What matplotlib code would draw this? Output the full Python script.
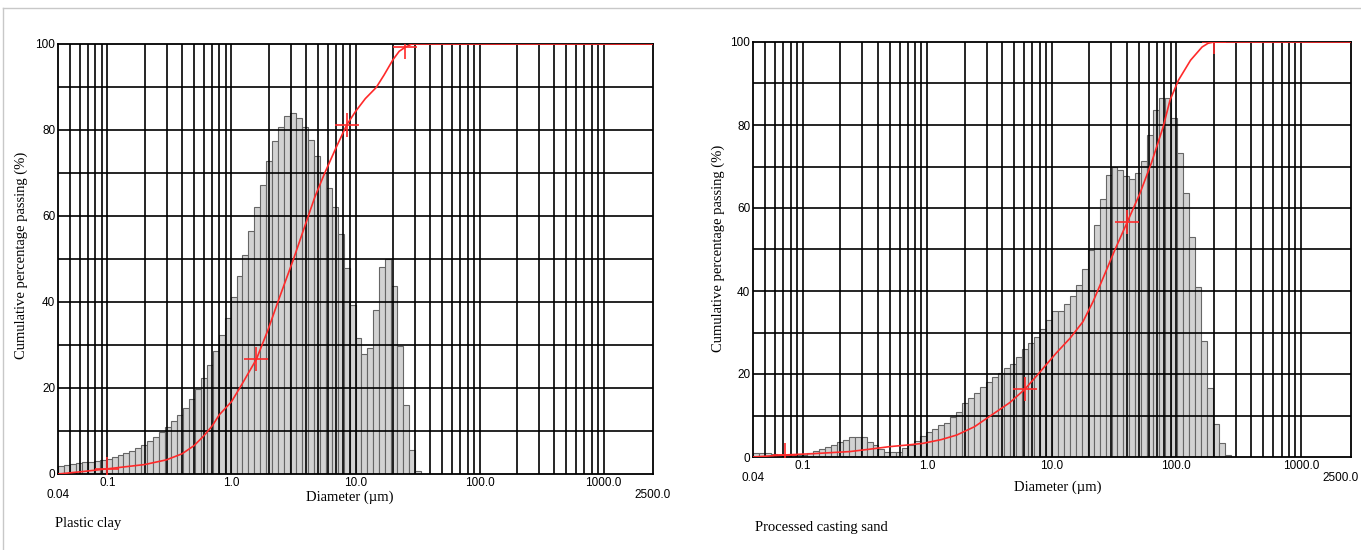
import numpy as np
import matplotlib
matplotlib.use("Agg")
import matplotlib.pyplot as plt
from matplotlib.transforms import blended_transform_factory

# ---------------- data ----------------
# instrument classes (0.04 - 2500 um, 100 log classes)
n_classes = 100
d_min, d_max = 0.04, 2500.0

clay_freq = [1.8, 2.2, 2.4, 2.5, 2.7, 2.9, 3.1, 3.3, 3.6, 3.9,
             4.4, 4.9, 5.3, 6.0, 6.8, 7.6, 8.7, 9.7, 11.0, 12.3,
             13.8, 15.4, 17.5, 19.8, 22.3, 25.4, 28.7, 32.4, 36.2, 41.2,
             46.0, 51.0, 56.4, 62.1, 67.3, 72.7, 77.5, 80.8, 83.3, 83.9,
             82.8, 80.7, 77.6, 73.9, 70.1, 66.5, 62.0, 55.7, 47.8, 39.4,
             31.6, 27.8, 29.4, 38.1, 48.2, 49.9, 43.7, 29.8, 16.1, 5.6,
             0.8]

clay_cum_d = [0.04, 0.06, 0.1, 0.2, 0.3, 0.4, 0.5, 0.6, 0.7, 0.8,
              1.0, 1.2, 1.59, 1.97, 2.45, 3.14, 3.9, 4.7, 5.65, 7.0,
              8.5, 10.0, 12.0, 14.7, 17.0, 20.0, 22.5, 25.0, 28.4, 2500.0]
clay_cum_v = [0.0, 0.5, 1.2, 2.2, 3.3, 4.7, 6.6, 8.9, 11.2, 13.8,
              16.8, 20.6, 26.7, 33.5, 41.2, 49.7, 57.6, 64.4, 70.0, 76.0,
              81.2, 84.3, 87.3, 89.9, 92.8, 96.3, 98.3, 99.2, 100.0, 100.0]
clay_mark_d = [0.1, 1.59, 8.5, 25.0]
clay_mark_v = [1.2, 26.7, 81.2, 99.2]

sand_freq = [1.0, 1.0, 1.0, 0.8, 0.6, 0.6, 0.6, 0.6, 0.6, 1.0,
             1.4, 1.9, 2.4, 2.8, 3.6, 4.2, 4.8, 4.8, 4.8, 3.6,
             2.8, 1.9, 1.2, 1.2, 1.3, 2.2, 2.9, 3.9, 5.1, 6.1,
             6.7, 7.6, 8.3, 9.7, 10.9, 12.9, 14.1, 15.5, 16.8, 18.0,
             19.2, 20.3, 21.4, 22.3, 24.0, 26.0, 27.4, 28.9, 30.9, 33.1,
             35.1, 35.1, 36.9, 38.9, 41.5, 45.3, 49.9, 55.8, 62.2, 68.0,
             70.0, 69.2, 67.8, 67.0, 68.5, 71.4, 77.6, 83.6, 86.4, 86.4,
             81.8, 73.2, 63.7, 53.1, 40.9, 27.9, 16.7, 8.0, 3.4, 0.6]

sand_cum_d = [0.04, 0.0726, 0.12, 0.238, 0.35, 0.5, 0.7, 0.93, 1.3, 1.73,
              2.4, 3.14, 4.6, 6.07, 7.54, 10.9, 14.0, 17.8, 21.5, 25.8,
              32.0, 40.5, 51.0, 63.0, 78.5, 89.0, 104.0, 130.0, 161.0, 180.0,
              200.0, 2500.0]
sand_cum_v = [0.0, 0.5, 0.8, 1.3, 1.9, 2.5, 2.9, 3.3, 4.2, 5.3,
              7.3, 9.7, 13.1, 16.3, 19.5, 25.1, 28.6, 32.6, 37.5, 43.1,
              49.8, 56.7, 63.5, 70.8, 79.6, 86.0, 90.8, 95.6, 98.8, 99.7,
              100.0, 100.0]
sand_mark_d = [0.0726, 6.07, 40.5, 200.0]
sand_mark_v = [0.5, 16.3, 56.7, 100.0]

x_tick_vals = [0.1, 1.0, 10.0, 100.0, 1000.0]
x_tick_labels = ["0.1", "1.0", "10.0", "100.0", "1000.0"]
y_tick_vals = [0, 20, 40, 60, 80, 100]
y_tick_labels = ["0", "20", "40", "60", "80", "100"]

x_label = "Diameter (\u00b5m)"
y_label = "Cumulative percentage passing (%)"
titles = ["Plastic clay", "Processed casting sand"]

# ---------------- figure ----------------
W, H = 1361, 550
fig = plt.figure(figsize=(W / 100, H / 100), dpi=100)
fig.patch.set_facecolor("white")

SERIF = ["Liberation Serif", "DejaVu Serif"]
SANS = ["Liberation Sans", "DejaVu Sans"]

edges = d_min * (d_max / d_min) ** (np.arange(n_classes + 1) / n_classes)

grid_x = [m * 10.0 ** e for e in range(-2, 3) for m in range(1, 10)]
grid_x = [g for g in grid_x if 0.045 < g < 1001] + [1000.0]


def px_axes(x0, x1, ytop, ybot):
    return fig.add_axes([x0 / W, 1 - ybot / H, (x1 - x0) / W, (ybot - ytop) / H])


def draw(ax, freq, cd, cv, md, mv):
    ax.set_xscale("log")
    ax.set_xlim(d_min, d_max)
    ax.set_ylim(0, 100)
    n = len(freq)
    ax.bar(edges[:n], freq, width=np.diff(edges)[:n], align="edge",
           facecolor="#d2d2d2", edgecolor="#666666", linewidth=0.8, zorder=1)
    for g in grid_x:
        ax.axvline(g, color="black", lw=1.2, zorder=2)
    for v in range(10, 100, 10):
        ax.axhline(v, color="black", lw=1.2, zorder=2)
    ax.plot(cd, cv, color="#ff2a2a", lw=1.2, zorder=4)
    ax.plot(md, mv, linestyle="none", marker="+", markersize=17,
            markeredgewidth=1.2, color="#ff2a2a", zorder=5)
    for s in ax.spines.values():
        s.set_color("black")
        s.set_linewidth(1.3)
        s.set_zorder(3)
    ax.set_xticks(x_tick_vals)
    ax.set_xticklabels(x_tick_labels, fontfamily=SANS, fontsize=8.5)
    ax.minorticks_off()
    ax.set_yticks(y_tick_vals)
    ax.set_yticklabels(y_tick_labels, fontfamily=SANS, fontsize=8.5)
    ax.tick_params(axis="both", length=0, pad=2)
    return blended_transform_factory(ax.transData, ax.transAxes)


# left chart
axL = px_axes(58, 653, 44, 474)
trL = draw(axL, clay_freq, clay_cum_d, clay_cum_v, clay_mark_d, clay_mark_v)
axL.text(0.04, -0.035, "0.04", transform=trL, ha="center", va="top",
         fontfamily=SANS, fontsize=8.5)
axL.text(2500.0, -0.035, "2500.0", transform=trL, ha="center", va="top",
         fontfamily=SANS, fontsize=8.5)

# right chart
axR = px_axes(753, 1350.5, 42, 457)
trR = draw(axR, sand_freq, sand_cum_d, sand_cum_v, sand_mark_d, sand_mark_v)
axR.text(0.04, -0.035, "0.04", transform=trR, ha="center", va="top",
         fontfamily=SANS, fontsize=8.5)
fig.text(1359 / W, 1 - 472 / H, "2500.0", ha="right", va="top",
         fontfamily=SANS, fontsize=8.5)


def ftext(x, y, s, **kw):
    fig.text(x / W, 1 - y / H, s, **kw)


ftext(350, 497, x_label, ha="center", va="center", fontfamily=SERIF, fontsize=10.5)
ftext(1058, 487, x_label, ha="center", va="center", fontfamily=SERIF, fontsize=10.5)
ftext(21, 255, y_label, ha="center", va="center", rotation=90, fontfamily=SERIF, fontsize=10.5)
ftext(718, 248, y_label, ha="center", va="center", rotation=90, fontfamily=SERIF, fontsize=10.5)
ftext(55, 523, titles[0], ha="left", va="center", fontfamily=SERIF, fontsize=10.5)
ftext(755, 528, titles[1], ha="left", va="center", fontfamily=SERIF, fontsize=10.5)

# faint outer frame (top and left)
fig.add_artist(plt.Line2D([3 / W, 1.0], [1 - 8 / H, 1 - 8 / H], color="#c8c8c8", lw=1.0))
fig.add_artist(plt.Line2D([3 / W, 3 / W], [1 - 8 / H, 0.0], color="#c8c8c8", lw=1.0))

fig.savefig("out.png", dpi=100, facecolor="white")
